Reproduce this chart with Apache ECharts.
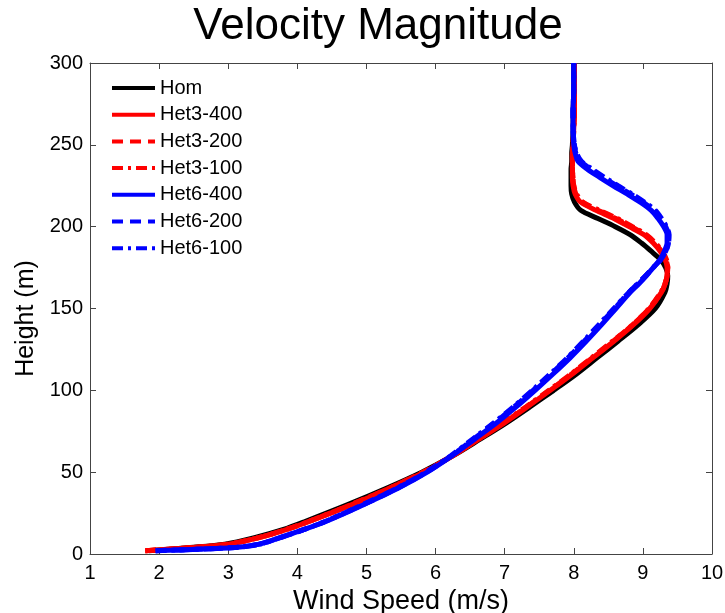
<!DOCTYPE html>
<html>
<head>
<meta charset="utf-8">
<script src="https://cdn.jsdelivr.net/npm/echarts@6/dist/echarts.min.js"></script>
<style>
html,body{margin:0;padding:0;background:#fff;}
#chart{width:725px;height:613px;}
</style>
</head>
<body>
<div id="chart"></div>
<script>
// Heights (m) shared by all profiles
var heights = [2, 4, 6, 10, 15, 20, 30, 40, 50, 60, 70, 80, 90, 100, 110, 120, 130, 140, 150, 160, 165, 170, 175, 180, 185, 190, 195, 200, 205, 210, 215, 220, 225, 230, 235, 240, 245, 250, 260, 270, 285, 300];

// Wind speeds (m/s) at each height
var hom = [1.85, 2.45, 2.95, 3.38, 3.8, 4.12, 4.72, 5.28, 5.8, 6.25, 6.64, 7.02, 7.37, 7.71, 8.04, 8.34, 8.64, 8.93, 9.18, 9.32, 9.35, 9.36, 9.33, 9.25, 9.12, 8.98, 8.82, 8.6, 8.35, 8.1, 8.01, 7.97, 7.96, 7.96, 7.96, 7.97, 7.97, 7.98, 7.99, 7.99, 8.0, 8.0];
var het3_400 = [1.8, 2.5, 3.0, 3.45, 3.85, 4.18, 4.78, 5.33, 5.83, 6.25, 6.62, 6.99, 7.33, 7.66, 7.98, 8.28, 8.58, 8.86, 9.1, 9.27, 9.32, 9.35, 9.35, 9.32, 9.25, 9.15, 9.02, 8.8, 8.58, 8.32, 8.1, 8.02, 7.99, 7.98, 7.98, 7.98, 7.98, 7.99, 8.0, 8.01, 8.01, 8.01];
var het3_200 = [1.8, 2.5, 3.0, 3.44, 3.84, 4.17, 4.77, 5.32, 5.82, 6.24, 6.61, 6.98, 7.32, 7.65, 7.97, 8.27, 8.57, 8.85, 9.09, 9.27, 9.32, 9.35, 9.36, 9.33, 9.27, 9.17, 9.04, 8.83, 8.61, 8.35, 8.12, 8.03, 8.0, 7.99, 7.98, 7.98, 7.98, 7.99, 8.0, 8.01, 8.01, 8.01];
var het3_100 = [1.8, 2.5, 3.0, 3.44, 3.84, 4.17, 4.77, 5.32, 5.82, 6.24, 6.61, 6.97, 7.31, 7.64, 7.96, 8.26, 8.56, 8.85, 9.09, 9.26, 9.32, 9.35, 9.36, 9.34, 9.28, 9.18, 9.05, 8.85, 8.63, 8.37, 8.13, 8.04, 8.0, 7.99, 7.98, 7.98, 7.98, 7.99, 8.0, 8.01, 8.01, 8.01];
var het6_400 = [1.95, 3.1, 3.45, 3.75, 4.1, 4.42, 4.95, 5.45, 5.88, 6.24, 6.56, 6.88, 7.17, 7.44, 7.7, 7.95, 8.18, 8.4, 8.61, 8.82, 8.94, 9.05, 9.15, 9.25, 9.31, 9.35, 9.35, 9.3, 9.22, 9.12, 8.96, 8.77, 8.57, 8.38, 8.2, 8.06, 8.02, 8.0, 7.99, 7.99, 8.0, 8.0];
var het6_200 = [1.95, 3.1, 3.45, 3.75, 4.1, 4.41, 4.94, 5.44, 5.87, 6.23, 6.54, 6.85, 7.14, 7.41, 7.67, 7.92, 8.15, 8.37, 8.59, 8.8, 8.92, 9.04, 9.15, 9.26, 9.33, 9.37, 9.37, 9.33, 9.26, 9.16, 9.0, 8.82, 8.62, 8.43, 8.25, 8.1, 8.03, 8.01, 7.99, 7.99, 8.0, 8.0];
var het6_100 = [1.95, 3.1, 3.45, 3.75, 4.1, 4.41, 4.94, 5.43, 5.86, 6.22, 6.53, 6.84, 7.13, 7.4, 7.66, 7.91, 8.14, 8.36, 8.58, 8.8, 8.92, 9.04, 9.15, 9.26, 9.33, 9.37, 9.38, 9.34, 9.27, 9.18, 9.02, 8.84, 8.64, 8.45, 8.27, 8.11, 8.04, 8.01, 7.99, 7.99, 8.0, 8.0];

var seriesNames = ['Hom', 'Het3-400', 'Het3-200', 'Het3-100', 'Het6-400', 'Het6-200', 'Het6-100'];
var seriesValues = [hom, het3_400, het3_200, het3_100, het6_400, het6_200, het6_100];
var seriesColors = ['#000000', '#ff0000', '#ff0000', '#ff0000', '#0000ff', '#0000ff', '#0000ff'];
var seriesDash = ['solid', 'solid', [11, 7], [11, 5, 3, 5], 'solid', [11, 7], [11, 5, 3, 5]];

var xTicks = [1, 10, 1];   // min, max, interval
var yTicks = [0, 300, 50];

var FONT = '"Liberation Sans", Arial, Helvetica, sans-serif';
var axisColor = '#444';

function makeAxis(pos, range, showLabel) {
  return {
    type: 'value', position: pos, min: range[0], max: range[1], interval: range[2],
    axisLine: { show: true, onZero: false, lineStyle: { color: axisColor, width: 1 } },
    axisTick: { show: true, inside: true, length: 6, lineStyle: { color: axisColor, width: 1 } },
    splitLine: { show: false },
    axisLabel: { show: showLabel, color: '#000', fontFamily: FONT, fontSize: 20 }
  };
}

var xMain = makeAxis('bottom', xTicks, true);
xMain.axisLabel.margin = 9;
xMain.name = 'Wind Speed (m/s)';
xMain.nameLocation = 'middle';
xMain.nameGap = 25;
xMain.nameTextStyle = { color: '#000', fontFamily: FONT, fontSize: 27 };
var xTop = makeAxis('top', xTicks, false);

var yMain = makeAxis('left', yTicks, true);
yMain.axisLabel.margin = 7;
yMain.name = 'Height (m)';
yMain.nameLocation = 'middle';
yMain.nameGap = 48;
yMain.nameRotate = 90;
yMain.nameTextStyle = { color: '#000', fontFamily: FONT, fontSize: 25, padding: [0, 20, 0, 0] };
var yRight = makeAxis('right', yTicks, false);

var series = seriesNames.map(function (n, k) {
  return {
    name: n,
    type: 'line',
    xAxisIndex: 0,
    yAxisIndex: 0,
    symbol: 'none',
    smooth: 0.3,
    animation: false,
    lineStyle: { color: seriesColors[k], width: 5, type: seriesDash[k], cap: 'butt' },
    itemStyle: { color: seriesColors[k] },
    data: heights.map(function (h, i) { return [seriesValues[k][i], h]; })
  };
});

var chart = echarts.init(document.getElementById('chart'), null, { renderer: 'canvas' });
chart.setOption({
  backgroundColor: '#fff',
  animation: false,
  title: {
    text: 'Velocity Magnitude',
    left: 373, top: 0, textAlign: 'center',
    textStyle: { color: '#000', fontFamily: FONT, fontSize: 44, fontWeight: 'normal' }
  },
  grid: { left: 90, right: 13, top: 63, bottom: 59, containLabel: false, outerBoundsMode: 'none' },
  legend: {
    data: seriesNames,
    orient: 'vertical',
    left: 110, top: 78,
    padding: 0,
    itemWidth: 43, itemHeight: 14, itemGap: 6.7,
    itemStyle: { opacity: 0 },
    lineStyle: { width: 4 },
    textStyle: { color: '#000', fontFamily: FONT, fontSize: 20, lineHeight: 20 }
  },
  xAxis: [xMain, xTop],
  yAxis: [yMain, yRight],
  series: series
});
</script>
</body>
</html>
